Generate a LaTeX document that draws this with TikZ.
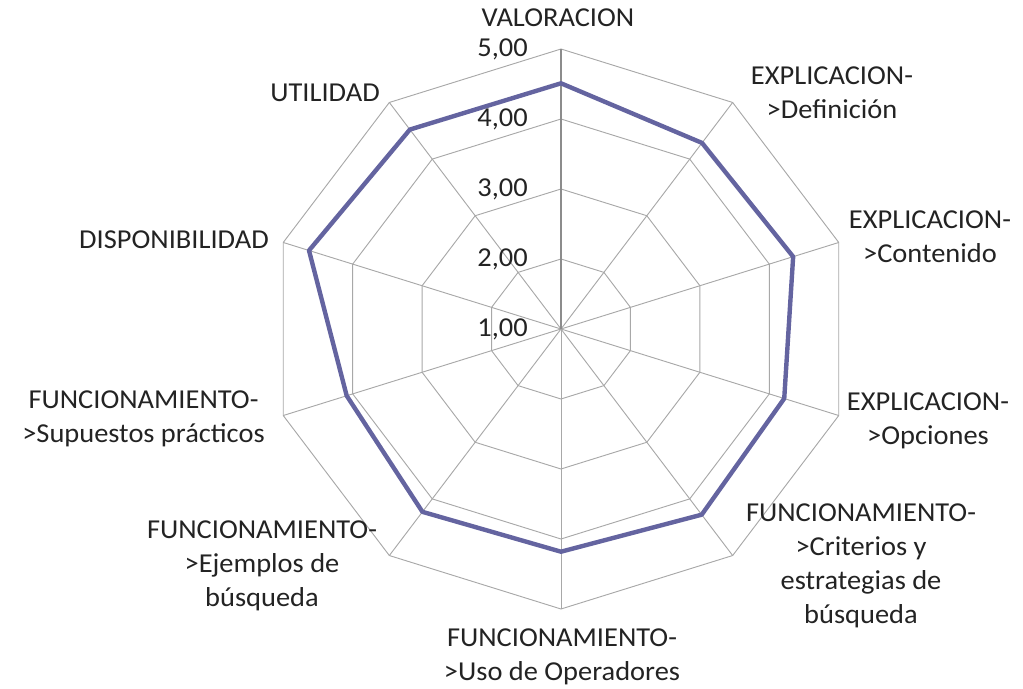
\documentclass[tikz,border=0pt]{standalone}
\usepackage{fontspec}
\setmainfont{Carlito}[FakeStretch=1.04]
\definecolor{gridgray}{RGB}{168,168,168}
\definecolor{axisgray}{RGB}{140,140,140}
\definecolor{serie}{RGB}{100,100,160}
\definecolor{labeltext}{RGB}{35,35,35}

\begin{document}
\begin{tikzpicture}[x=0.75pt,y=0.75pt,
  lbl/.style={text=labeltext,font=\fontsize{20.5}{25.5}\selectfont,align=center,inner sep=0pt},
  tick/.style={lbl,anchor=east}]

  \useasboundingbox (-561,-359) rectangle (462,329);

  \begin{scope}[xscale=1.043]
  % rings 2,00 ... 5,00
  \foreach \r in {70,140,210,280}
    \draw[gridgray,line width=0.7pt] (90:\r) \foreach \a in {54,18,...,-234} { -- (\a:\r) } -- cycle;

  % spokes
  \foreach \a in {54,18,...,-234}
    \draw[gridgray,line width=0.7pt] (0,0) -- (\a:280);
  \draw[axisgray,line width=1pt] (0,0) -- (90:280);

  % serie
  \foreach \r [count=\i] in {245.7,230,234,225,229.5,222.7,226,216,254,246.5}
    \coordinate (p\i) at ({126-36*\i}:\r);
  \draw[serie,line width=3.3pt,line join=round]
    (p1) -- (p2) -- (p3) -- (p4) -- (p5) -- (p6) -- (p7) -- (p8) -- (p9) -- (p10) -- cycle;
  \end{scope}

  % ticks
  \foreach \v [count=\i from 0] in {1,2,3,4,5}
    \node[tick] (t\v) at (-33,70*\i) {\v,00};

  % labels
  \node[lbl] (valoracion) at (-3,311) {VALORACION};
  \node[lbl] (definicion) at (271,236) {EXPLICACION-\\>Definición};
  \node[lbl] (contenido) at (369,92) {EXPLICACION-\\>Contenido};
  \node[lbl] (opciones) at (367,-91.5) {EXPLICACION-\\>Opciones};
  \node[lbl] (criterios) at (300,-237) {FUNCIONAMIENTO-\\>Criterios y\\estrategias de\\búsqueda};
  \node[lbl] (uso) at (1,-328) {FUNCIONAMIENTO-\\>Uso de Operadores};
  \node[lbl] (ejemplos) at (-299,-237) {FUNCIONAMIENTO-\\>Ejemplos de\\búsqueda};
  \node[lbl] (supuestos) at (-417.5,-89.5) {FUNCIONAMIENTO-\\>Supuestos prácticos};
  \node[lbl,anchor=east] (disponibilidad) at (-292,89) {DISPONIBILIDAD};
  \node[lbl,anchor=east] (utilidad) at (-181,236) {UTILIDAD};

\end{tikzpicture}
\end{document}
